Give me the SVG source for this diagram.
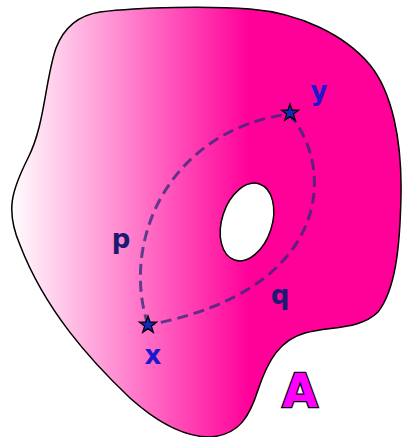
<svg xmlns="http://www.w3.org/2000/svg" width="402" height="437" viewBox="0 0 402 437">
<defs>
<linearGradient id="g" gradientUnits="userSpaceOnUse" x1="10" y1="0" x2="250" y2="0">
<stop offset="0" stop-color="#ffffff"/>
<stop offset="1" stop-color="#ff0099"/>
</linearGradient>
<polygon id="star" points="0,-9 2.1,-2.9 8.6,-2.8 3.4,1.1 5.3,7.3 0,3.6 -5.3,7.3 -3.4,1.1 -8.6,-2.8 -2.1,-2.9"/>
</defs>
<style>
.lbl{font-family:"DejaVu Sans",sans-serif;font-weight:bold;font-size:26px;text-anchor:middle}
.pt{fill:#1a1acc}
.pa{fill:#1a1a70}
.path{fill:none;stroke:#2a2a7a;stroke-width:3;stroke-dasharray:11,6;stroke-opacity:0.75}
.st{fill:#1428c0;stroke:#000;stroke-width:1.3}
</style>
<g id="regionA">
<path d="M100,12 C140,7 210,6 250,9 C300,13 345,35 370,65 C392,92 402,140 401,195 C400,250 395,290 378,312 C360,330 330,326 305,333 C280,340 268,360 258,390 C250,415 240,435 210,437 C185,437 160,425 130,398 C90,360 45,310 20,245 C5,210 12,190 28,158 C45,125 45,80 56,48 C65,25 80,15 100,12 Z" fill="url(#g)" stroke="#000" stroke-width="1.5"/>
<ellipse cx="247" cy="222" rx="25" ry="40" transform="rotate(18 247 222)" fill="#fff" stroke="#000" stroke-width="1.5"/>
</g>
<g id="connectors">
<path id="p" class="path" d="M148,325 C120,240 170,130 289,114"/>
<path id="q" class="path" d="M289,114 C335,165 335,290 148,325"/>
</g>
<g id="node-y">
<use href="#star" x="290" y="113" class="st"/>
<text class="lbl pt" x="319" y="100">y</text>
</g>
<g id="node-x">
<use href="#star" x="148" y="325" class="st"/>
<text class="lbl pt" x="153" y="364">x</text>
</g>
<g id="label-p"><text class="lbl pa" x="121" y="248">p</text></g>
<g id="label-q"><text class="lbl pa" x="280" y="304">q</text></g>
<g id="label-A"><text x="300" y="407" font-family="DejaVu Sans,sans-serif" font-weight="bold" font-size="46" text-anchor="middle" fill="#ff00ff" stroke="#000" stroke-width="2.5" paint-order="stroke">A</text></g>
</svg>
